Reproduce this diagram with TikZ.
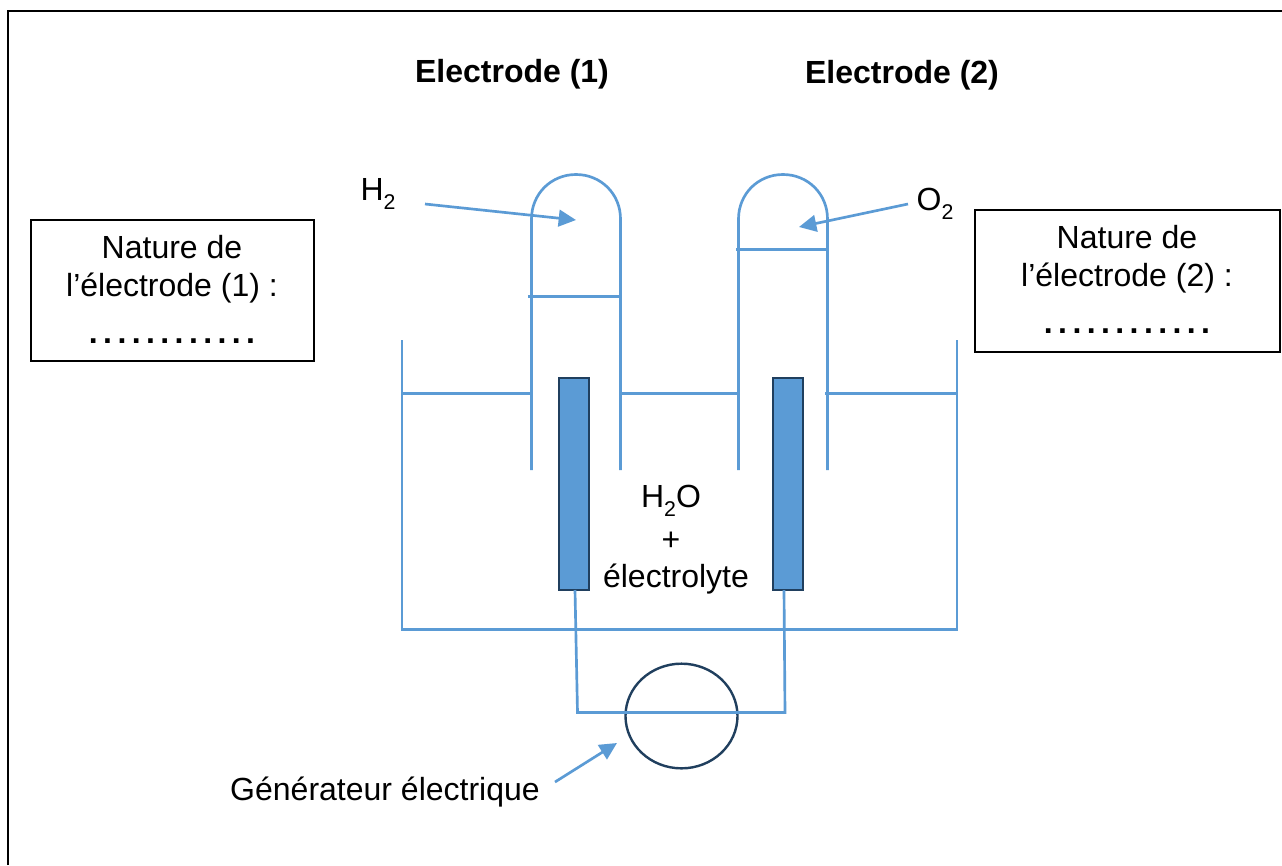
\documentclass[tikz,border=0pt]{standalone}
\usepackage{fontspec}
\setmainfont{Liberation Sans}
\usetikzlibrary{arrows.meta,shapes.geometric}
\definecolor{lineblue}{HTML}{5B9BD5}
\definecolor{darkblue}{HTML}{203F5E}
\newcommand{\dotgap}{\hspace{4.05pt}}
\newcommand{\dotrow}{\textbf{.\dotgap.\dotgap.\dotgap.\dotgap.\dotgap.\dotgap.\dotgap.\dotgap.\dotgap.\dotgap.\dotgap.}}
\newcommand{\subtwo}{\raisebox{-0.3em}{\fontsize{16}{16}\selectfont 2}}
\tikzset{
  x=0.75pt,y=-0.75pt,
  vessel/.style={draw=lineblue,line width=2pt},
  pointer/.style={draw=lineblue,line width=2pt,-{Triangle[length=13pt,width=12.5pt]}},
  electrodebar/.style={draw=darkblue,fill=lineblue,line width=2.2pt,minimum width=22.5pt,minimum height=159pt,inner sep=0pt,outer sep=0pt},
  answerbox/.style={draw=black,line width=1.1pt},
  lbl/.style={inner sep=0pt,outer sep=0pt,font=\fontsize{24}{28}\selectfont},
  heading/.style={inner sep=0pt,outer sep=0pt,font=\fontsize{24}{28}\selectfont\bfseries},
}
\begin{document}
\begin{tikzpicture}
\useasboundingbox (0,0) rectangle (1282,865);
\fill[white] (0,0) rectangle (1282,865);
\draw[black,line width=1.5pt] (8,865) -- (8,11) -- (1282,11);

% answer boxes
\draw[answerbox] (31,220) rectangle (314,361);
\draw[answerbox] (975,210) rectangle (1280,352);
\node[lbl,anchor=base] (n1a) at (172,258) {Nature de};
\node[lbl,anchor=base] (n1b) at (172,296) {l’électrode (1) :};
\node[lbl,anchor=base] (n1c) at (172,343) {\dotrow};
\node[lbl,anchor=base] (n2a) at (1127,248) {Nature de};
\node[lbl,anchor=base] (n2b) at (1127,286) {l’électrode (2) :};
\node[lbl,anchor=base] (n2c) at (1127,333) {\dotrow};

% titles
\node[heading,anchor=base] (t1) at (512,82) {Electrode (1)};
\node[heading,anchor=base] (t2) at (902,83) {Electrode (2)};

% bath
\draw[vessel] (402,340) -- (402,629.5) -- (957,629.5) -- (957,340);
\draw[vessel] (402,393.5) -- (530,393.5);
\draw[vessel] (621,393.5) -- (737,393.5);
\draw[vessel] (825,393.5) -- (957,393.5);

% tube 1
\draw[vessel] (531.5,470) -- (531.5,219) .. controls (531.5,194) and (551,174.5) .. (576,174.5) .. controls (601,174.5) and (620.5,194) .. (620.5,219) -- (620.5,470);
\draw[vessel] (528,296.5) -- (620.5,296.5);
% tube 2
\draw[vessel] (738.5,470) -- (738.5,219) .. controls (738.5,194) and (758,174.5) .. (783,174.5) .. controls (808,174.5) and (827.5,194) .. (827.5,219) -- (827.5,470);
\draw[vessel] (736,249.5) -- (827.5,249.5);

% electrodes
\node[electrodebar] (e1) at (574,484) {};
\node[electrodebar] (e2) at (788,484) {};

% generator
\node[draw=darkblue,line width=1.8pt,ellipse,minimum width=84pt,minimum height=78.5pt,inner sep=0pt,outer sep=0pt] (gen) at (681.5,716) {};
\coordinate (wl) at (577.5,712.5);
\coordinate (wr) at (785,712.5);
\draw[vessel] ([xshift=0.75pt]e1.south) -- (wl) -- (wr) -- ([xshift=-3pt]e2.south);

% labels
\node[lbl,anchor=base] (h2) at (378,200) {H\subtwo};
\node[lbl,anchor=base] (o2) at (935,210) {O\subtwo};
\node[lbl,anchor=base] (w1) at (671,507) {H\subtwo O};
\node[lbl,anchor=base] (w2) at (671,550) {+};
\node[lbl,anchor=base] (w3) at (676,587) {électrolyte};
\node[lbl,anchor=base] (g) at (385,800) {Générateur électrique};

% pointers
\coordinate (h2s) at (425,204);
\coordinate (h2e) at (576,220);
\coordinate (o2s) at (908,204);
\coordinate (o2e) at (799,227);
\coordinate (gs) at (555,782);
\coordinate (ge) at (617,743);
\draw[pointer] (h2s) -- (h2e);
\draw[pointer] (o2s) -- (o2e);
\draw[pointer] (gs) -- (ge);
\end{tikzpicture}
\end{document}
